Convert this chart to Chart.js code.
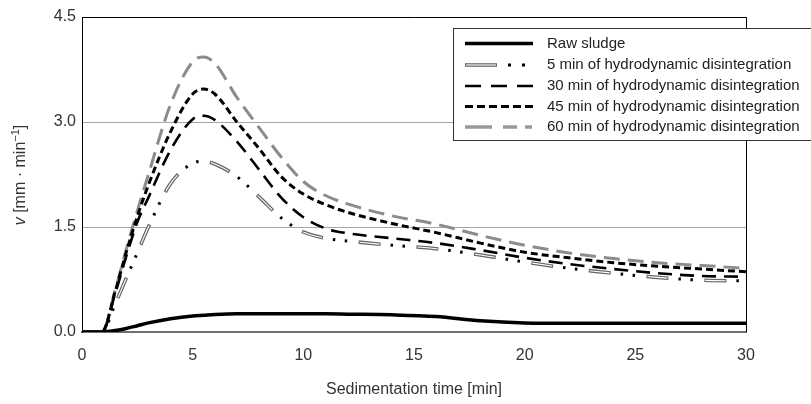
<!DOCTYPE html>
<html>
<head>
<meta charset="utf-8">
<script src="https://cdn.jsdelivr.net/npm/chart.js@4.4.0/dist/chart.umd.min.js"></script>
<style>
  html, body { margin: 0; padding: 0; background: #fff; }
  #wrap { position: relative; width: 811px; height: 404px; }
</style>
</head>
<body>
<div id="wrap"><canvas id="chart"></canvas></div>
<script>
// sedimentation time [min]
const times = [0, 0.9, 1.5, 2, 2.5, 3, 4, 5, 5.5, 6, 7, 8, 9, 10, 11, 12, 14, 16, 18, 20, 22, 24, 26, 28, 30];

// v [mm/min]
const rawSludge = [0, 0, 0.02, 0.05, 0.09, 0.13, 0.19, 0.23, 0.24, 0.25, 0.26, 0.26, 0.26, 0.26, 0.26, 0.255, 0.245, 0.22, 0.16, 0.13, 0.125, 0.125, 0.125, 0.125, 0.125];
const min5 = [0, 0, 0.4, 0.77, 1.13, 1.5, 2.12, 2.41, 2.44, 2.4, 2.22, 1.93, 1.63, 1.43, 1.34, 1.3, 1.24, 1.19, 1.1, 1.0, 0.91, 0.84, 0.78, 0.74, 0.73];
const min30 = [0, 0, 0.55, 1.08, 1.57, 1.92, 2.6, 3.04, 3.09, 3.03, 2.72, 2.32, 1.92, 1.64, 1.48, 1.41, 1.34, 1.27, 1.17, 1.06, 0.97, 0.9, 0.84, 0.8, 0.79];
const min45 = [0, 0, 0.58, 1.14, 1.65, 2.1, 2.86, 3.4, 3.47, 3.4, 3.0, 2.62, 2.22, 1.97, 1.82, 1.71, 1.55, 1.42, 1.27, 1.14, 1.06, 0.99, 0.94, 0.9, 0.86];
const min60 = [0, 0, 0.6, 1.18, 1.73, 2.25, 3.25, 3.86, 3.93, 3.84, 3.35, 2.92, 2.5, 2.15, 1.95, 1.83, 1.66, 1.54, 1.38, 1.24, 1.13, 1.05, 0.99, 0.95, 0.91];

const seriesNames = [
  "Raw sludge",
  "5 min of hydrodynamic disintegration",
  "30 min of hydrodynamic disintegration",
  "45 min of hydrodynamic disintegration",
  "60 min of hydrodynamic disintegration"
];
const xTicks = [0, 5, 10, 15, 20, 25, 30];
const yTicks = [0, 1.5, 3.0, 4.5];

const FONT = "'Liberation Sans', Arial, sans-serif";

function pts(vals) {
  return vals.map((v, i) => ({ x: times[i], y: v }));
}

function line(vals, color, width, dash, offset) {
  return {
    data: pts(vals),
    borderColor: color,
    borderWidth: width,
    borderDash: dash || [],
    borderDashOffset: offset || 0,
    borderCapStyle: "butt",
    pointRadius: 0,
    fill: false,
    cubicInterpolationMode: "monotone"
  };
}

// 5 min line: hollow grey dash, then two black dots (period 58px)
const DASH5 = [22, 36];
const DOTS5 = [0, 32, 2.5, 9.5, 2.5, 11.5];

// datasets are drawn last-to-first, so the top layers go first
const datasets = [
  line(rawSludge, "#000", 3.5),
  line(min5, "#000", 3, DOTS5),
  line(min5, "#fff", 1.1, [20, 38], -1),
  line(min5, "#666", 3.6, DASH5),
  line(min30, "#000", 2.6, [14, 8]),
  line(min45, "#000", 3, [7, 4]),
  line(min60, "#8c8c8c", 3, [16, 8])
];

// legend, frame and y title drawn on top
const extras = {
  id: "extras",
  afterDraw(chart) {
    const ctx = chart.ctx;
    const a = chart.chartArea;
    ctx.save();

    // top and right frame
    ctx.strokeStyle = "#000";
    ctx.lineWidth = 1;
    ctx.beginPath();
    ctx.moveTo(a.left, a.top + 0.5);
    ctx.lineTo(a.right + 0.5, a.top + 0.5);
    ctx.lineTo(a.right + 0.5, a.bottom);
    ctx.stroke();

    // y axis title, italic v
    ctx.save();
    ctx.translate(21, 175);
    ctx.rotate(-Math.PI / 2);
    ctx.fillStyle = "#333";
    ctx.textBaseline = "middle";
    ctx.textAlign = "left";
    const f1 = "italic 16px " + FONT, f2 = "16px " + FONT, f3 = "11px " + FONT;
    ctx.font = f1; const w1 = ctx.measureText("v").width;
    ctx.font = f2; const w2 = ctx.measureText(" [mm · min").width;
    ctx.font = f3; const w3 = ctx.measureText("−1").width;
    ctx.font = f2; const w4 = ctx.measureText("]").width;
    let x = -(w1 + w2 + w3 + w4) / 2;
    ctx.font = f1; ctx.fillText("v", x, 0); x += w1;
    ctx.font = f2; ctx.fillText(" [mm · min", x, 0); x += w2;
    ctx.font = f3; ctx.fillText("−1", x, -5); x += w3;
    ctx.font = f2; ctx.fillText("]", x, 0);
    ctx.restore();

    // legend box
    const bx = 453, by = 28, bh = 112;
    ctx.fillStyle = "#fff";
    ctx.fillRect(bx, by, 400, bh);
    ctx.strokeStyle = "#333";
    ctx.lineWidth = 1;
    ctx.strokeRect(bx + 0.5, by + 0.5, 400, bh);

    const rows = [43.5, 65, 86, 106.5, 127];
    const x0 = 465, x1 = 533;
    ctx.lineCap = "butt";

    // raw sludge
    ctx.strokeStyle = "#000"; ctx.lineWidth = 3.5;
    ctx.beginPath(); ctx.moveTo(x0, rows[0]); ctx.lineTo(x1, rows[0]); ctx.stroke();

    // 5 min
    ctx.strokeStyle = "#666"; ctx.lineWidth = 3.6;
    ctx.beginPath(); ctx.moveTo(x0, rows[1]); ctx.lineTo(x0 + 32, rows[1]); ctx.stroke();
    ctx.strokeStyle = "#fff"; ctx.lineWidth = 1.1;
    ctx.beginPath(); ctx.moveTo(x0 + 1, rows[1]); ctx.lineTo(x0 + 31, rows[1]); ctx.stroke();
    ctx.fillStyle = "#000";
    ctx.fillRect(508, rows[1] - 1.5, 3, 3);
    ctx.fillRect(522, rows[1] - 1.5, 3, 3);

    // 30 min
    ctx.strokeStyle = "#000"; ctx.lineWidth = 2.6;
    ctx.setLineDash([16, 10]);
    ctx.beginPath(); ctx.moveTo(x0, rows[2]); ctx.lineTo(x1, rows[2]); ctx.stroke();

    // 45 min
    ctx.lineWidth = 3.2;
    ctx.setLineDash([8, 4]);
    ctx.beginPath(); ctx.moveTo(x0, rows[3]); ctx.lineTo(x1, rows[3]); ctx.stroke();

    // 60 min
    ctx.setLineDash([]);
    ctx.strokeStyle = "#999"; ctx.lineWidth = 3.5;
    [[465, 492], [503, 517], [525, 532]].forEach(s => {
      ctx.beginPath(); ctx.moveTo(s[0], rows[4]); ctx.lineTo(s[1], rows[4]); ctx.stroke();
    });

    ctx.fillStyle = "#222";
    ctx.font = "15px " + FONT;
    ctx.textAlign = "left";
    ctx.textBaseline = "middle";
    seriesNames.forEach((n, i) => ctx.fillText(n, 547, rows[i]));

    ctx.restore();
  }
};

new Chart(document.getElementById("chart"), {
  type: "line",
  data: { datasets },
  options: {
    responsive: true,
    maintainAspectRatio: false,
    animation: false,
    layout: { padding: { top: 17, right: 65, left: 0, bottom: 0 } },
    plugins: { legend: { display: false }, tooltip: { enabled: false } },
    scales: {
      x: {
        type: "linear",
        min: 0,
        max: 30,
        afterBuildTicks: s => { s.ticks = xTicks.map(v => ({ value: v })); },
        afterFit: s => { s.height = 72; },
        grid: { display: false, drawTicks: false },
        border: { display: true, color: "#707070", width: 2 },
        ticks: { padding: 14, color: "#333", font: { family: FONT, size: 16 } },
        title: {
          display: true,
          text: "Sedimentation time [min]",
          color: "#333",
          font: { family: FONT, size: 16 },
          padding: { top: 0, bottom: 5 }
        }
      },
      y: {
        min: 0,
        max: 4.5,
        afterBuildTicks: s => { s.ticks = yTicks.map(v => ({ value: v })); },
        afterFit: s => { s.width = 82; },
        grid: {
          drawTicks: false,
          color: c => (c.tick && (c.tick.value === 1.5 || c.tick.value === 3)) ? "#a6a6a6" : "rgba(0,0,0,0)",
          lineWidth: 1
        },
        border: { display: true, color: "#000", width: 1 },
        ticks: {
          padding: 6,
          color: "#333",
          font: { family: FONT, size: 16 },
          callback: v => Number(v).toFixed(1)
        }
      }
    }
  },
  plugins: [extras]
});
</script>
</body>
</html>
